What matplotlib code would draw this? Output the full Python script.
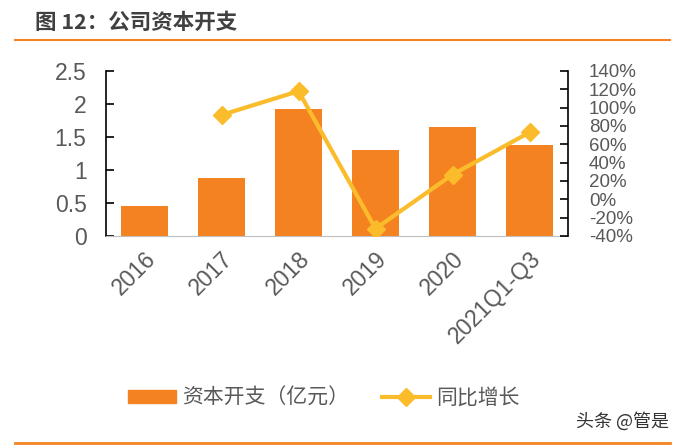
import matplotlib
matplotlib.use("Agg")
import matplotlib.pyplot as plt
from matplotlib.lines import Line2D
from matplotlib.patches import Patch

plt.rcParams['font.family'] = ['Liberation Sans', 'Noto Sans CJK SC', 'DejaVu Sans']

# %%
years = ['2016', '2017', '2018', '2019', '2020', '2021Q1-Q3']
capex = [0.45, 0.88, 1.92, 1.30, 1.65, 1.38]
yoy = [None, 92, 118, -32, 27, 73]
left_ticks = [0, 0.5, 1, 1.5, 2, 2.5]
left_labels = ['0', '0.5', '1', '1.5', '2', '2.5']
right_ticks = list(range(-40, 141, 20))
right_labels = [f'{t}%' for t in right_ticks]

bar_color = '#F58220'
line_color = '#FBBC2C'
text_color = '#595959'

# %%
fig = plt.figure(figsize=(6.79, 4.45), dpi=100)
ax = fig.add_axes([106 / 679, 1 - 236 / 445, 462 / 679, 165 / 445])

x = list(range(len(years)))
ax.bar(x, capex, width=0.62, color=bar_color, zorder=2)
ax.set_xlim(-0.5, 5.5)
ax.set_ylim(0, 2.5)
ax.set_yticks(left_ticks)
ax.set_yticklabels(left_labels)
ax.set_xticks(x)
ax.set_xticklabels(years, rotation=45, ha='right', rotation_mode='anchor')
ax.tick_params(axis='y', direction='in', length=6, width=1.2, colors='black',
               labelcolor=text_color, labelsize=16.5, pad=14)
ax.tick_params(axis='x', length=0, labelcolor=text_color, labelsize=16.5, pad=8)
ax.spines['top'].set_visible(False)
ax.spines['right'].set_visible(False)
ax.spines['left'].set_linewidth(1.2)
ax.spines['bottom'].set_color('#BFBFBF')

ax2 = ax.twinx()
xs = [i for i, v in zip(x, yoy) if v is not None]
ys = [v for v in yoy if v is not None]
ax2.plot(xs, ys, color=line_color, lw=3, marker='D', markersize=9, zorder=3)
ax2.set_ylim(-40, 140)
ax2.set_yticks(right_ticks)
ax2.set_yticklabels(right_labels)
ax2.tick_params(axis='y', direction='in', length=6, width=1.2, colors='black',
                labelcolor=text_color, labelsize=13.5, pad=15)
ax2.spines['top'].set_visible(False)
ax2.spines['left'].set_visible(False)
ax2.spines['bottom'].set_visible(False)
ax2.spines['right'].set_linewidth(1.2)

# %%
cjk = ['Noto Sans CJK SC', 'DejaVu Sans']
fig.text(35 / 679, 1 - 22 / 445, '图 12：公司资本开支', family=cjk, fontsize=15.5,
         fontweight='bold', color='#404040', va='center')
fig.add_artist(Line2D([15 / 679, 670 / 679], [1 - 40 / 445] * 2, color=bar_color, lw=1.5))
fig.add_artist(Line2D([15 / 679, 670 / 679], [1 - 443 / 445] * 2, color=bar_color, lw=2))

handles = [Patch(color=bar_color),
           Line2D([], [], color=line_color, lw=3, marker='D', markersize=9)]
fig.legend(handles, ['资本开支（亿元）', '同比增长'], loc='center',
           bbox_to_anchor=(324 / 679, 1 - 398 / 445), ncol=2, frameon=False,
           prop={'family': cjk, 'size': 15}, labelcolor=text_color,
           handlelength=2.3, handleheight=0.6, handletextpad=0.3, columnspacing=1.6)
fig.text(669 / 679, 1 - 421 / 445, '头条 @管是', family=cjk, fontsize=13,
         color='#333333', ha='right', va='center')

fig.savefig('out.png', dpi=100)
